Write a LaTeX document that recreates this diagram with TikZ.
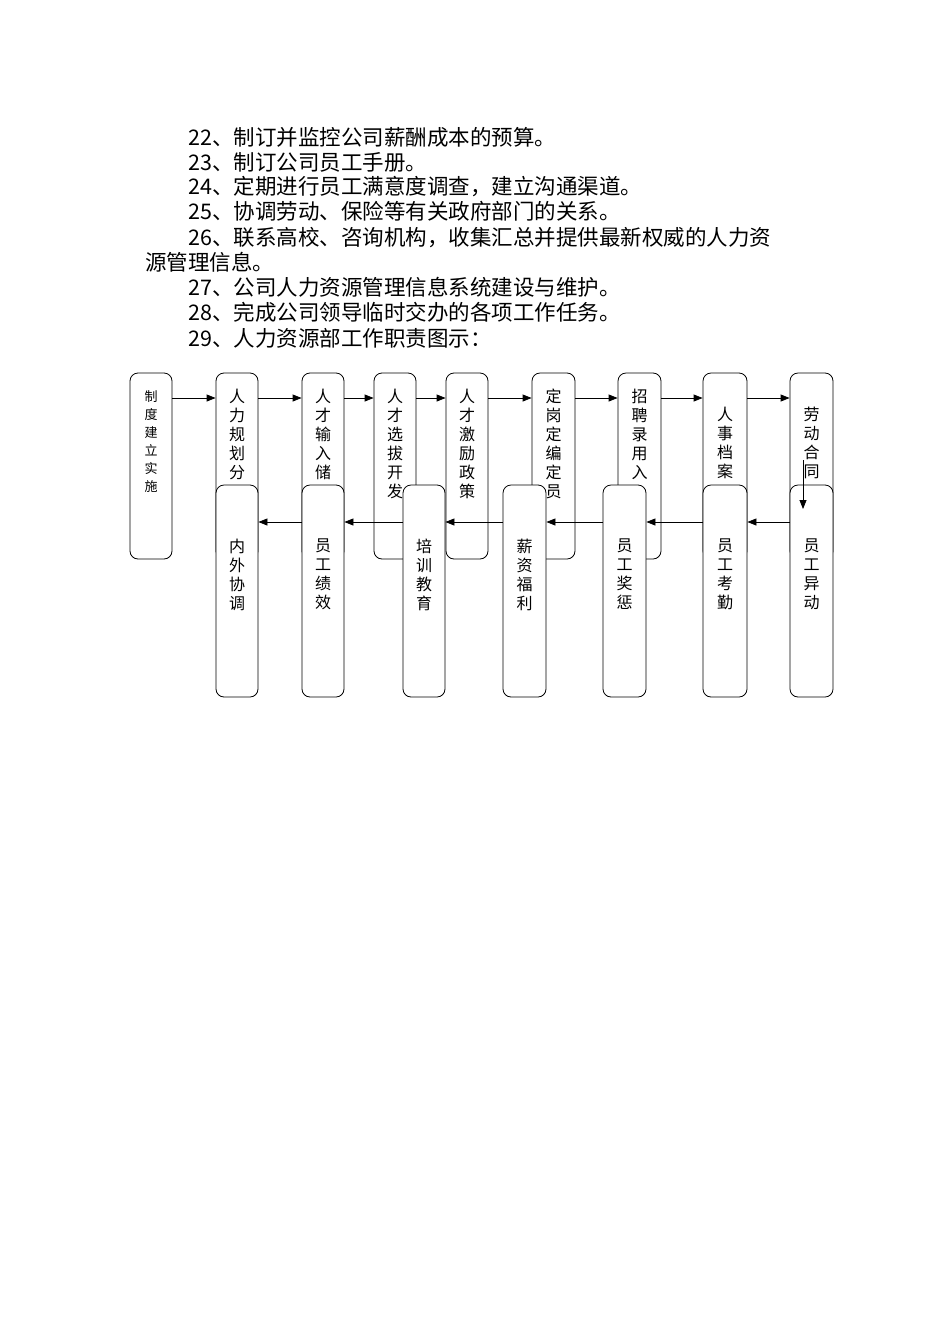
\documentclass[tikz,border=0pt]{standalone}
\usepackage{fontspec}
\setmainfont{Liberation Serif}
\newfontfamily\cjk{Noto Sans CJK SC}
\usetikzlibrary{arrows.meta}
\begin{document}
\begin{tikzpicture}[x=1pt,y=-1pt,
  box/.style={draw,line width=0.8pt,rounded corners=8pt,fill=white,inner sep=0pt},
  btxt/.style={anchor=north,align=center,inner sep=0pt,font=\cjk\fontsize{16}{19}\selectfont},
  stxt/.style={anchor=north,align=center,inner sep=0pt,font=\cjk\fontsize{13}{18}\selectfont},
  para/.style={anchor=base west,inner sep=0pt,font=\cjk\fontsize{21.5}{25}\selectfont},
  arr/.style={-{Triangle[length=9pt,width=7pt]},line width=0.8pt}]
\useasboundingbox (0,0) rectangle (950,1344);
\fill[white] (0,0) rectangle (950,1344);
% paragraph
\node[para] (p1) at (188,145) {22、制订并监控公司薪酬成本的预算。};
\node[para] (p2) at (188,170) {23、制订公司员工手册。};
\node[para] (p3) at (188,194) {24、定期进行员工满意度调查，建立沟通渠道。};
\node[para] (p4) at (188,219) {25、协调劳动、保险等有关政府部门的关系。};
\node[para] (p5) at (188,245) {26、联系高校、咨询机构，收集汇总并提供最新权威的人力资};
\node[para] (p6) at (145,270) {源管理信息。};
\node[para] (p7) at (188,295) {27、公司人力资源管理信息系统建设与维护。};
\node[para] (p8) at (188,320) {28、完成公司领导临时交办的各项工作任务。};
\node[para] (p9) at (188,346) {29、人力资源部工作职责图示：};
% top boxes
\newcommand{\tbox}[3]{\pgfmathsetmacro\ww{#3-#2}\pgfmathsetmacro\cc{(#2+#3)/2}\node[box,minimum width=\ww pt,minimum height=186pt] (#1) at (\cc,466) {};}
\tbox{a0}{130}{172}
\tbox{a1}{216}{258}
\tbox{a2}{302}{344}
\tbox{a3}{374}{416}
\tbox{a4}{446}{488}
\tbox{a5}{532}{575}
\tbox{a6}{618}{661}
\tbox{a7}{703}{747}
\tbox{a8}{790}{833}
\node[stxt] (ta0) at ([yshift=-18pt]a0.north) {制\\度\\建\\立\\实\\施};
\node[btxt] (ta1) at ([yshift=-16pt]a1.north) {人\\力\\规\\划\\分};
\node[btxt] (ta2) at ([yshift=-16pt]a2.north) {人\\才\\输\\入\\储};
\node[btxt] (ta3) at ([yshift=-16pt]a3.north) {人\\才\\选\\拔\\开\\发};
\node[btxt] (ta4) at ([yshift=-16pt]a4.north) {人\\才\\激\\励\\政\\策};
\node[btxt] (ta5) at ([yshift=-16pt]a5.north) {定\\岗\\定\\编\\定\\员};
\node[btxt] (ta6) at ([yshift=-16pt]a6.north) {招\\聘\\录\\用\\入};
\node[btxt] (ta7) at ([yshift=-34pt]a7.north) {人\\事\\档\\案};
\node[btxt] (ta8) at ([yshift=-34pt]a8.north) {劳\\动\\合\\同};
\foreach \i/\j in {a0/a1,a1/a2,a2/a3,a3/a4,a4/a5,a5/a6,a6/a7,a7/a8}
  \draw[arr] (\i.east |- 0,398) -- (\j.west |- 0,398);
% bottom boxes
\newcommand{\bbox}[3]{\pgfmathsetmacro\ww{#3-#2}\pgfmathsetmacro\cc{(#2+#3)/2}\node[box,minimum width=\ww pt,minimum height=212pt] (#1) at (\cc,591) {};}
\bbox{b1}{216}{258}
\bbox{b2}{302}{344}
\bbox{b3}{403}{445}
\bbox{b4}{503}{546}
\bbox{b5}{603}{646}
\bbox{b6}{703}{747}
\bbox{b8}{790}{833}
\node[btxt] (tb1) at ([yshift=-54pt]b1.north) {内\\外\\协\\调};
\node[btxt] (tb2) at ([yshift=-54pt]b2.north) {员\\工\\绩\\效};
\node[btxt] (tb3) at ([yshift=-54pt]b3.north) {培\\训\\教\\育};
\node[btxt] (tb4) at ([yshift=-54pt]b4.north) {薪\\资\\福\\利};
\node[btxt] (tb5) at ([yshift=-54pt]b5.north) {员\\工\\奖\\惩};
\node[btxt] (tb6) at ([yshift=-54pt]b6.north) {员\\工\\考\\勤};
\node[btxt] (tb8) at ([yshift=-54pt]b8.north) {员\\工\\异\\动};
\foreach \i/\j in {b8/b6,b6/b5,b5/b4,b4/b3,b3/b2,b2/b1}
  \draw[arr] (\i.west |- 0,522) -- (\j.east |- 0,522);
\coordinate (vs) at (803,460);
\coordinate (ve) at (803,509);
\draw[arr] (vs) -- (ve);
\end{tikzpicture}
\end{document}
